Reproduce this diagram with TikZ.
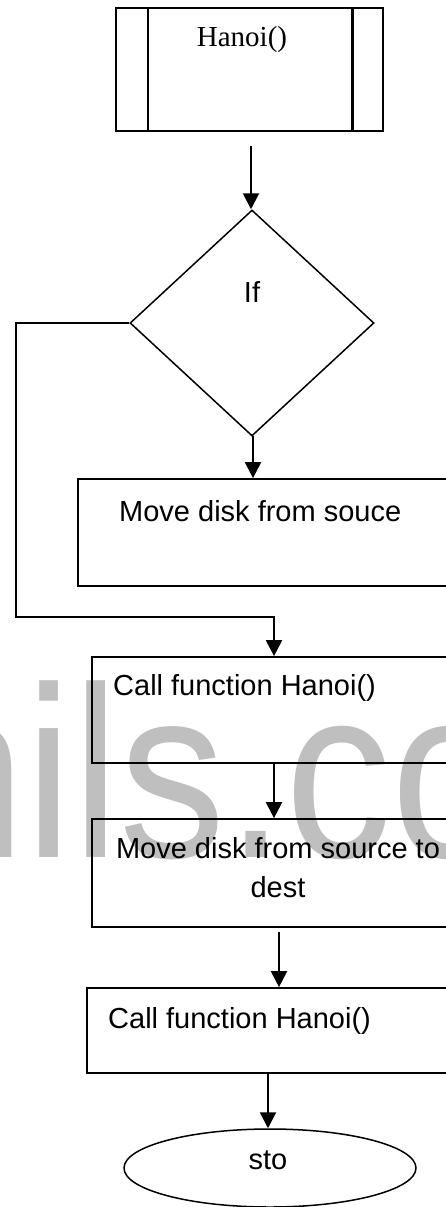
\documentclass[tikz,border=0pt]{standalone}
\usepackage{fontspec}
\setmainfont{Liberation Serif}
\newfontfamily\arial{Liberation Sans}
\usetikzlibrary{shapes.geometric,arrows.meta}

\tikzset{
  boxtext/.style={font=\arial\fontsize{29}{39}\selectfont, inner sep=0pt},
  procbox/.style={draw, line width=1.7pt, rectangle, inner sep=0pt},
  conn/.style={line width=2pt},
  arrowline/.style={line width=2pt, -{Triangle[width=16pt,length=16pt]}},
}

\begin{document}
\begin{tikzpicture}[x=1pt,y=-1pt]
  \useasboundingbox (0,0) rectangle (446,1207);
  \clip (0,0) rectangle (446,1207);

  % faint background lettering
  \node[anchor=base west, inner sep=0pt, text=black!25,
        font=\arial\fontsize{244}{244}\selectfont] (wm) at (-92.5,857)
        {\scalebox{0.87}[1]{nils.co}};

  % start: predefined process box
  \node[draw, line width=2.5pt, rectangle, inner sep=0pt,
        minimum width=267pt, minimum height=123pt] (start) at (249.5,69.5) {};
  \draw[line width=2.5pt] ([xshift=33pt]start.north west) -- ([xshift=33pt]start.south west);
  \draw[line width=2.5pt] ([xshift=-32pt]start.north east) -- ([xshift=-32pt]start.south east);
  \node[font=\fontsize{29}{35}\selectfont, inner sep=0pt, anchor=base] (startlbl) at (242,47) {Hanoi()};

  % decision
  \node[draw, diamond, line width=1.5pt, inner sep=0pt,
        minimum width=244pt, minimum height=226pt] (cond) at (252,323) {};
  \node[boxtext, anchor=base] (condlbl) at (252,302) {If};

  % process boxes
  \node[procbox, minimum width=392pt, minimum height=107pt] (move1) at (274,532.5) {};
  \node[boxtext, anchor=base west] (move1lbl) at (119,521) {Move disk from souce};

  \node[procbox, minimum width=378pt, minimum height=106pt] (call1) at (281,710) {};
  \node[boxtext, anchor=base west] (call1lbl) at (113,695) {Call function Hanoi()};

  \node[procbox, minimum width=372pt, minimum height=108pt] (move2) at (278,873) {};
  \node[boxtext, anchor=base, align=center] (move2lbl) at (278,897)
        {Move disk from source to\\dest};

  \node[procbox, minimum width=383pt, minimum height=85pt] (call2) at (278.5,1030.5) {};
  \node[boxtext, anchor=base west] (call2lbl) at (108,1028) {Call function Hanoi()};

  % terminator
  \node[draw, ellipse, line width=1.5pt, inner sep=0pt,
        minimum width=292pt, minimum height=78pt] (stop) at (270,1168) {};
  \node[boxtext, anchor=base] (stoplbl) at (268,1169) {sto};

  % connectors
  \coordinate (a1) at (251,146);
  \draw[arrowline] (a1) -- (a1 |- cond.north);

  \coordinate (a2) at (253,436);
  \draw[arrowline] (a2) -- (a2 |- move1.north);

  \coordinate (bend1) at (16,323);
  \coordinate (bend2) at (16,617);
  \coordinate (bend3) at (274,617);
  \draw[arrowline] (cond.west) -- (bend1) -- (bend2) -- (bend3) -- (bend3 |- call1.north);

  \coordinate (a3) at (274,763);
  \draw[arrowline] (a3) -- (a3 |- move2.north);

  \coordinate (a4) at (279,932);
  \draw[arrowline] (a4) -- (a4 |- call2.north);

  \coordinate (a5) at (268,1073);
  \draw[arrowline] (a5) -- (a5 |- stop.north);
\end{tikzpicture}
\end{document}
